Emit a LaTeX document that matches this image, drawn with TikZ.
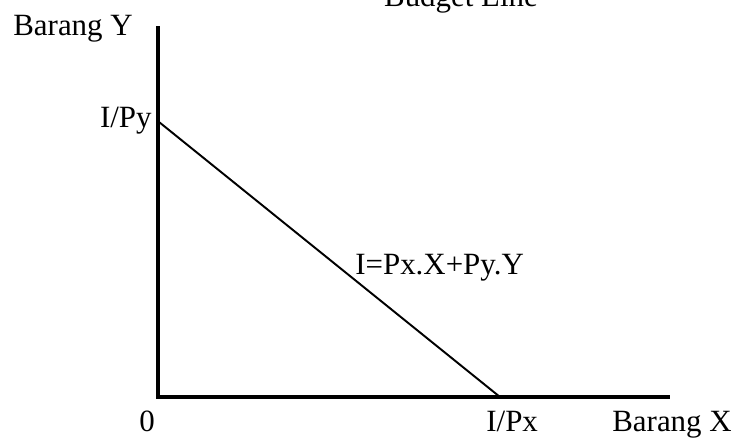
\documentclass[tikz,border=0pt]{standalone}
\usepackage{fontspec}
\setmainfont{Liberation Serif}
\usetikzlibrary{positioning}

\begin{document}
\begin{tikzpicture}[
    x=0.02cm, y=0.02cm,
    axis/.style={line width=2.8pt, line cap=rect},
    budget/.style={line width=1.1pt},
    lbl/.style={inner sep=0pt, font=\fontsize{17.6}{20}\selectfont}
]
\useasboundingbox (0,0) rectangle (737,438);

% Axes
\coordinate (origin) at (158,41);
\coordinate (ytop) at (158,410);
\coordinate (xend) at (668,41);
\draw[axis] (ytop) -- (origin) -- (xend);

% Budget line
\coordinate (py) at (159,316);
\coordinate (px) at (500,41);
\draw[budget] (py) -- (px);

% Labels
\node[lbl, anchor=base] (title) at (461,431) {Budget Line};
\node[lbl, anchor=base west] (ylab) at (13,402) {Barang Y};
\node[lbl, anchor=base east] (pylab) at (152,310) {I/Py};
\node[lbl, anchor=base west] (eq) at (355,163) {I=Px.X+Py.Y};
\node[lbl, anchor=base] (zero) at (147,6) {0};
\node[lbl, anchor=base west] (pxlab) at (486,6) {I/Px};
\node[lbl, anchor=base west] (xlab) at (612,6) {Barang X};

\end{tikzpicture}
\end{document}
